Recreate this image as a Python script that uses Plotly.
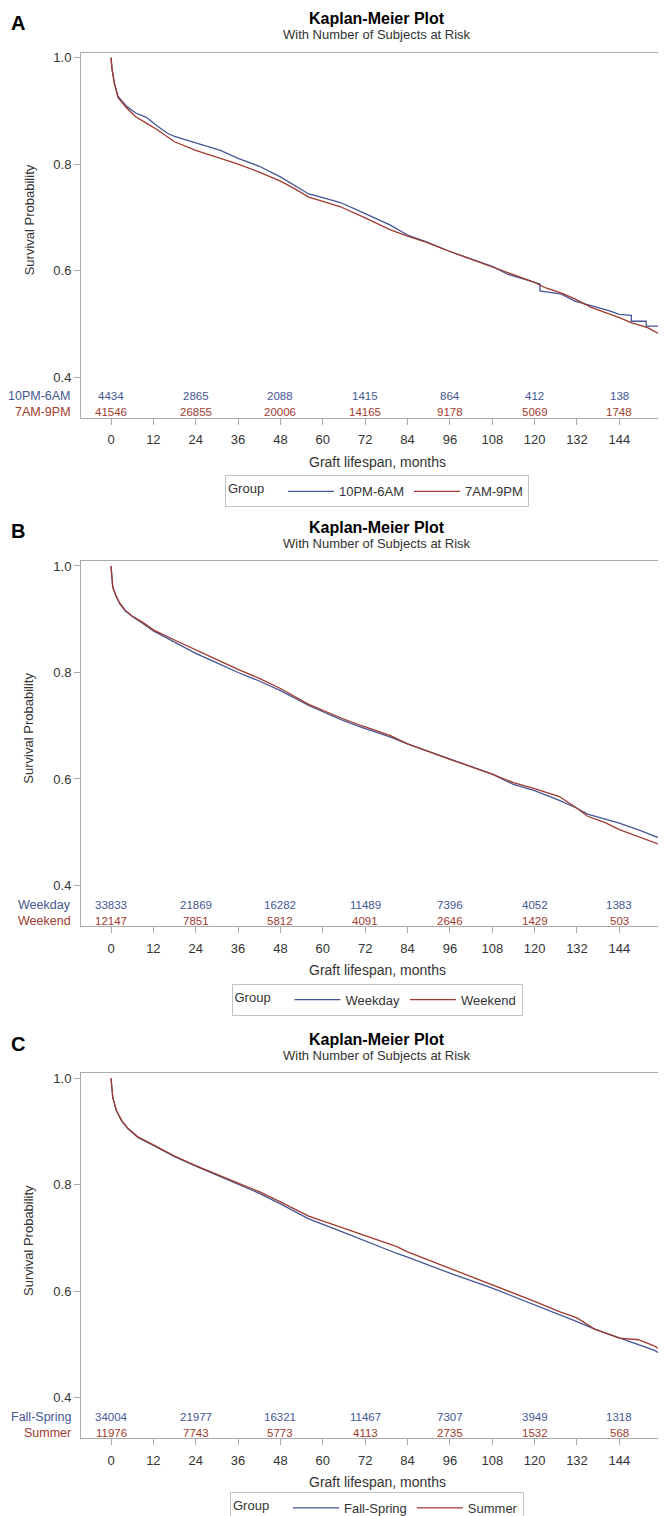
import plotly.graph_objects as go

W, H = 666, 1516
FONT = "Liberation Sans, Arial, sans-serif"
BLUE = "#445694"
RED = "#A23A2E"

# ---------------- data ----------------
risk_times = [0, 24, 48, 72, 96, 120, 144]
x_ticks = [0, 12, 24, 36, 48, 60, 72, 84, 96, 108, 120, 132, 144]
y_ticks = [0.4, 0.6, 0.8, 1.0]
y_tick_text = ["0.4", "0.6", "0.8", "1.0"]

# Panel A
a_names = ["10PM-6AM", "7AM-9PM"]
a_risk_1 = [4434, 2865, 2088, 1415, 864, 412, 138]
a_risk_2 = [41546, 26855, 20006, 14165, 9178, 5069, 1748]
a_t1 = [0, 0.3, 1, 2, 4.5, 7, 10, 13, 16, 18, 24, 31, 36, 42, 48, 52, 56, 60, 65, 72,
        79, 84, 89, 96, 103, 108, 112.5, 118, 121.5, 121.5, 126, 127.6, 131.4, 136, 141,
        144, 147.4, 147.4, 151.6, 151.6, 156.3, 156.3, 158.5, 158.5, 159.2]
a_s1 = [1.0, 0.978, 0.951, 0.927, 0.908, 0.896, 0.888, 0.872, 0.858, 0.852, 0.840, 0.826,
        0.811, 0.796, 0.776, 0.760, 0.744, 0.737, 0.728, 0.707, 0.686, 0.667, 0.655, 0.636,
        0.619, 0.608, 0.593, 0.582, 0.575, 0.562, 0.558, 0.556, 0.543, 0.535, 0.525, 0.518,
        0.516, 0.505, 0.505, 0.496, 0.496, 0.485, 0.485, 0.456, 0.456]
a_t2 = [0, 0.3, 1, 2, 4.5, 7, 10, 13, 18, 24, 31, 36, 42, 48, 52, 56, 60, 65, 72, 79, 84,
        89, 96, 103, 108, 112.5, 120, 123, 128, 131.4, 136, 144, 147.5, 152, 156.5, 159.2]
a_s2 = [1.0, 0.978, 0.950, 0.925, 0.905, 0.889, 0.877, 0.865, 0.842, 0.826, 0.811, 0.800,
        0.785, 0.768, 0.754, 0.738, 0.730, 0.720, 0.699, 0.677, 0.665, 0.654, 0.636, 0.619,
        0.608, 0.596, 0.578, 0.568, 0.557, 0.547, 0.531, 0.512, 0.502, 0.493, 0.477, 0.470]

# Panel B
b_names = ["Weekday", "Weekend"]
b_risk_1 = [33833, 21869, 16282, 11489, 7396, 4052, 1383]
b_risk_2 = [12147, 7851, 5812, 4091, 2646, 1429, 503]
b_t1 = [0, 0.5, 1.5, 2.5, 4, 6, 9, 12, 18, 24, 30, 36, 42, 48, 56, 65, 71, 79, 84, 96,
        108, 114, 120, 127, 132, 135, 144, 150, 155, 159.2]
b_s1 = [1.0, 0.960, 0.942, 0.929, 0.916, 0.905, 0.892, 0.878, 0.857, 0.836, 0.818, 0.800,
        0.784, 0.766, 0.738, 0.712, 0.697, 0.679, 0.666, 0.637, 0.609, 0.590, 0.578, 0.560,
        0.545, 0.534, 0.517, 0.503, 0.490, 0.469]
b_t2 = [0, 0.5, 1.5, 2.5, 4, 6, 9, 12, 18, 24, 30, 36, 42, 48, 56, 65, 71, 79, 84, 96,
        108, 114, 120, 127, 132, 135, 140, 144, 150, 155, 159.2]
b_s2 = [1.0, 0.960, 0.943, 0.930, 0.917, 0.906, 0.894, 0.880, 0.861, 0.842, 0.824, 0.806,
        0.789, 0.770, 0.740, 0.715, 0.700, 0.682, 0.666, 0.637, 0.609, 0.593, 0.582, 0.567,
        0.545, 0.530, 0.518, 0.505, 0.490, 0.478, 0.465]

# Panel C
c_names = ["Fall-Spring", "Summer"]
c_risk_1 = [34004, 21977, 16321, 11467, 7307, 3949, 1318]
c_risk_2 = [11976, 7743, 5773, 4113, 2735, 1532, 568]
c_t1 = [0, 0.5, 1.5, 3, 4.8, 7.6, 12, 18, 24, 30, 36, 42, 48, 56, 65, 72, 81, 84, 96,
        108, 120, 127, 132, 137, 144, 149.4, 154, 159.2]
c_s1 = [1.0, 0.964, 0.939, 0.920, 0.905, 0.889, 0.874, 0.853, 0.835, 0.818, 0.801, 0.784,
        0.764, 0.736, 0.713, 0.694, 0.671, 0.664, 0.634, 0.606, 0.575, 0.556, 0.543, 0.529,
        0.512, 0.500, 0.489, 0.467]
c_t2 = [0, 0.5, 1.5, 3, 4.8, 7.6, 12, 18, 24, 30, 36, 42, 48, 56, 65, 72, 81, 84, 96,
        108, 120, 127, 132, 137, 144, 149.4, 154, 159.2]
c_s2 = [1.0, 0.964, 0.940, 0.921, 0.906, 0.890, 0.875, 0.854, 0.836, 0.819, 0.803, 0.787,
        0.768, 0.741, 0.720, 0.704, 0.684, 0.674, 0.643, 0.613, 0.581, 0.562, 0.550, 0.529,
        0.512, 0.509, 0.497, 0.475]

panels = [
    dict(letter="A", names=a_names, risk=(a_risk_1, a_risk_2), curves=((a_t1, a_s1), (a_t2, a_s2)), off=0),
    dict(letter="B", names=b_names, risk=(b_risk_1, b_risk_2), curves=((b_t1, b_s1), (b_t2, b_s2)), off=510),
    dict(letter="C", names=c_names, risk=(c_risk_1, c_risk_2), curves=((c_t1, c_s1), (c_t2, c_s2)), off=1024),
]

# ---------------- layout helpers ----------------
def py(px):
    return 1 - px / H

X_LEFT, X_RIGHT = 73, 665
FRAME_TOP, FRAME_BOT = 42, 408
X_RANGE = [-8.5, 159.2]
Y_RANGE = [0.324, 1.009]
ROW_Y = [0.364, 0.334]
LEGEND_Y = [482, 992, 1502]
XC = (X_LEFT + X_RIGHT) / 2 / W

fig = go.Figure()
annotations = []
layout = dict(
    width=W, height=H, margin=dict(l=0, r=0, t=0, b=0),
    paper_bgcolor="white", plot_bgcolor="white",
    font=dict(family=FONT, size=13, color="#333333"),
    showlegend=True,
)

colors = [BLUE, RED]
for i, p in enumerate(panels):
    k = i + 1
    sx = "" if k == 1 else str(k)
    xa, ya = "x" + sx, "y" + sx
    off = p["off"]
    legname = "legend" if k == 1 else "legend%d" % k

    for j in range(2):
        t, s = p["curves"][j]
        fig.add_trace(go.Scatter(
            x=t, y=s, mode="lines", name=p["names"][j],
            line=dict(color=colors[j], width=1.3),
            xaxis=xa, yaxis=ya, legend=legname, hoverinfo="skip"))

    axis_common = dict(showline=True, linecolor="#ababab", linewidth=1, mirror=True,
                       showgrid=False, zeroline=False, ticks="outside", ticklen=6,
                       tickcolor="#ababab", tickfont=dict(family=FONT, size=13, color="#333333"))
    layout["xaxis" + sx] = dict(
        axis_common, domain=[X_LEFT / W, X_RIGHT / W], range=X_RANGE,
        tickmode="array", tickvals=x_ticks, anchor=ya, ticklabelstandoff=4)
    layout["yaxis" + sx] = dict(
        axis_common, domain=[py(FRAME_BOT + off), py(FRAME_TOP + off)], range=Y_RANGE,
        tickmode="array", tickvals=y_ticks, ticktext=y_tick_text, anchor=xa)

    layout[legname] = dict(
        orientation="h", x=XC, xanchor="center", y=py(LEGEND_Y[i]), yanchor="middle",
        bordercolor="#c4c4c4", borderwidth=1, bgcolor="white", itemwidth=46,
        font=dict(family=FONT, size=13, color="#333333"),
        title=dict(text="Group   ", side="left", font=dict(family=FONT, size=13, color="#333333")),
        itemclick=False, itemdoubleclick=False)

    # panel letter
    annotations.append(dict(text="<b>%s</b>" % p["letter"], x=1 / W, xanchor="left",
                            y=py(12 + off), yanchor="middle", xref="paper", yref="paper",
                            showarrow=False, font=dict(family=FONT, size=20, color="black")))
    # titles
    annotations.append(dict(text="<b>Kaplan-Meier Plot</b>", x=XC, xanchor="center",
                            y=py(8 + off), yanchor="middle", xref="paper", yref="paper",
                            showarrow=False, font=dict(family=FONT, size=16, color="black")))
    annotations.append(dict(text="With Number of Subjects at Risk", x=XC, xanchor="center",
                            y=py(24 + off), yanchor="middle", xref="paper", yref="paper",
                            showarrow=False, font=dict(family=FONT, size=13, color="#333333")))
    # axis titles
    annotations.append(dict(text="Survival Probability", x=21 / W, xanchor="center",
                            y=py(210 + off), yanchor="middle", xref="paper", yref="paper",
                            textangle=-90, showarrow=False,
                            font=dict(family=FONT, size=13, color="#333333")))
    annotations.append(dict(text="Graft lifespan, months", x=XC, xanchor="center",
                            y=py(452 + off), yanchor="middle", xref="paper", yref="paper",
                            showarrow=False, font=dict(family=FONT, size=14, color="#333333")))
    # at-risk table
    for j in range(2):
        annotations.append(dict(text=p["names"][j], x=65 / W, xanchor="right", xref="paper",
                                y=ROW_Y[j], yref=ya, yanchor="middle", showarrow=False,
                                font=dict(family=FONT, size=12.5, color=colors[j])))
        for tt, n in zip(risk_times, p["risk"][j]):
            annotations.append(dict(text=str(n), x=tt, xref=xa, y=ROW_Y[j], yref=ya,
                                    xanchor="center", yanchor="middle", showarrow=False,
                                    font=dict(family=FONT, size=11.5, color=colors[j])))

layout["annotations"] = annotations
fig.update_layout(**layout)
fig.write_html("out.html")
